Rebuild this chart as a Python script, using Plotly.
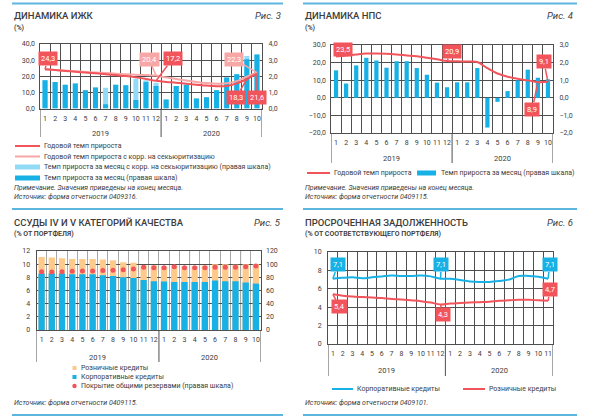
import plotly.graph_objects as go

W, H = 590, 417
def px(x): return x / W
def py(y): return 1 - y / H

# ---------------- data ----------------
months_2019 = ["1", "2", "3", "4", "5", "6", "7", "8", "9", "10", "11", "12"]
months_2020_oct = ["1", "2", "3", "4", "5", "6", "7", "8", "9", "10"]
months_2020_nov = ["1", "2", "3", "4", "5", "6", "7", "8", "9", "10", "11"]
years = ["2019", "2020"]

# Fig 3: ИЖК
izhk_month = [1.75, 1.65, 1.48, 1.55, 1.13, 1.30, 0.27, 1.48, 1.44, 0.52, 1.65, 1.40,
              0.56, 1.40, 1.48, 0.62, 0.70, 1.13, 1.92, 2.12, 3.05, 3.35]
izhk_month_corr = [1.75, 1.65, 1.48, 1.55, 1.13, 1.30, 1.28, 1.48, 1.44, 1.85, 1.75, 1.60,
                   0.56, 1.40, 1.48, 0.62, 0.70, 1.13, 1.92, 2.12, 3.25, 3.35]
izhk_yoy = [24.3, 23.8, 23.3, 22.8, 22.3, 21.8, 21.3, 20.7, 20.1, 19.3, 18.3, 17.2,
            16.5, 16.0, 15.4, 14.8, 14.2, 13.8, 14.0, 15.6, 18.3, 21.6]
izhk_yoy_corr = [24.3, 23.9, 23.5, 23.1, 22.7, 22.3, 22.0, 21.6, 21.3, 21.0, 20.7, 20.4,
                 19.3, 18.3, 17.4, 16.5, 15.8, 15.4, 15.6, 17.0, 19.8, 22.3]

# Fig 4: НПС
nps_month = [1.56, 0.81, 1.84, 2.27, 2.12, 1.71, 2.08, 2.08, 1.69, 1.31, 0.86, 0.60,
             0.88, 0.88, 1.69, -1.69, -0.23, 0.38, 0.99, 1.60, 1.14, 1.05]
nps_yoy = [23.5, 24.0, 24.6, 25.1, 25.2, 25.0, 24.6, 24.1, 23.6, 22.8, 21.9, 20.9,
           20.7, 20.6, 20.3, 16.8, 13.8, 12.0, 10.8, 9.9, 8.9, 9.1]

# Fig 5: ссуды IV и V категорий
loans_retail = [11.1, 11.0, 10.9, 10.8, 10.8, 10.8, 10.7, 10.6, 10.3, 10.2, 9.8, 9.8,
                9.7, 9.8, 9.7, 9.7, 9.8, 10.0, 10.0, 9.9, 10.0, 10.0]
loans_corp = [8.6, 8.6, 8.6, 8.45, 8.45, 8.45, 8.3, 8.2, 8.0, 7.9, 7.6, 7.4,
              7.35, 7.3, 7.3, 7.3, 7.3, 7.5, 7.4, 7.4, 7.2, 7.05]
coverage = [88.6, 88.1, 88.6, 89.1, 89.6, 89.6, 90.2, 90.7, 91.7, 92.7, 95.2, 94.7,
            94.7, 96.2, 94.7, 94.7, 94.7, 95.2, 95.2, 95.2, 96.2, 97.3]

# Fig 6: просроченная задолженность
overdue_corp = [7.1, 7.2, 7.25, 7.15, 7.25, 7.35, 7.45, 7.4, 7.4, 7.45, 7.35, 7.1,
                7.1, 6.95, 6.8, 6.75, 6.75, 6.85, 7.0, 7.4, 7.4, 7.3, 7.1]
overdue_retail = [5.4, 5.25, 5.15, 5.1, 5.05, 5.0, 4.9, 4.85, 4.75, 4.65, 4.5, 4.3,
                  4.4, 4.45, 4.5, 4.55, 4.6, 4.7, 4.75, 4.8, 4.8, 4.75, 4.7]

# names / texts
name_yoy = "Годовой темп прироста"
name_yoy_corr = "Годовой темп прироста с корр. на секьюритизацию"
name_month_corr = "Темп прироста за месяц с корр. на секьюритизацию (правая шкала)"
name_month = "Темп прироста за месяц (правая шкала)"
name_retail_loans = "Розничные кредиты"
name_corp_loans = "Корпоративные кредиты"
name_coverage = "Покрытие общими резервами (правая шкала)"

# ---------------- styles ----------------
BLUE = "#17b1e6"
LIGHT_BLUE = "#92dbf6"
RED = "#f2545b"
PINK = "#f8a7a7"
ORANGE = "#fdca8c"
GRID = "#4f4f4f"
LGRID = "#a8a8a8"
TXT = "#3c3c3c"
SEP = "#5cb6de"
FONT = "Roboto"

def fmt(v):
    return f"{v:.1f}".replace(".", ",")

labels1 = months_2019 + months_2020_oct
labels4 = months_2019 + months_2020_nov
xs1 = list(range(1, len(labels1) + 1))
xs4 = list(range(1, len(labels4) + 1))

fig = go.Figure()

# Panel 1 (bars on base axis y, lines on overlay y2)
fig.add_bar(x=xs1, y=izhk_month_corr, xaxis="x", yaxis="y", marker_color=LIGHT_BLUE,
            width=0.5, name=name_month_corr, marker_line_width=0)
fig.add_bar(x=xs1, y=izhk_month, xaxis="x", yaxis="y", marker_color=BLUE,
            width=0.5, name=name_month, marker_line_width=0)
fig.add_scatter(x=xs1, y=izhk_yoy_corr, xaxis="x", yaxis="y2", mode="lines",
                line=dict(color=PINK, width=2, shape="spline"), name=name_yoy_corr)
fig.add_scatter(x=xs1, y=izhk_yoy, xaxis="x", yaxis="y2", mode="lines",
                line=dict(color=RED, width=2, shape="spline"), name=name_yoy)

# Panel 2
fig.add_bar(x=xs1, y=nps_month, xaxis="x2", yaxis="y3", marker_color=BLUE,
            width=0.42, name=name_month, marker_line_width=0)
fig.add_scatter(x=xs1, y=nps_yoy, xaxis="x2", yaxis="y4", mode="lines",
                line=dict(color=RED, width=2, shape="spline"), name=name_yoy)

# Panel 3
fig.add_bar(x=xs1, y=loans_retail, xaxis="x3", yaxis="y5", marker_color=ORANGE,
            width=0.62, name=name_retail_loans, marker_line_width=0)
fig.add_bar(x=xs1, y=loans_corp, xaxis="x3", yaxis="y5", marker_color=BLUE,
            width=0.62, name=name_corp_loans, marker_line_width=0)
fig.add_scatter(x=xs1, y=coverage, xaxis="x3", yaxis="y6", mode="markers",
                marker=dict(color=RED, size=5), name=name_coverage)

# Panel 4
fig.add_scatter(x=xs4, y=overdue_corp, xaxis="x4", yaxis="y7", mode="lines",
                line=dict(color=BLUE, width=2, shape="spline"), name=name_corp_loans)
fig.add_scatter(x=xs4, y=overdue_retail, xaxis="x4", yaxis="y7", mode="lines",
                line=dict(color=RED, width=2, shape="spline"), name=name_retail_loans)

tickfont = dict(family=FONT, size=7, color=TXT)

def xaxis(dom, anchor, xs, labels, mgrid=GRID):
    n = len(xs)
    return dict(domain=[px(dom[0]), px(dom[1])], anchor=anchor, range=[0.5, n + 0.5],
                tickmode="array", tickvals=xs, ticktext=labels, showgrid=False,
                ticks="", tickfont=tickfont, zeroline=False, showline=True,
                linecolor=GRID, linewidth=1, mirror=True, fixedrange=True,
                ticklabelstandoff=3, tickangle=0, automargin=False,
                minor=dict(tickmode="array", tickvals=[i + 0.5 for i in range(n + 1)],
                           showgrid=True, gridcolor=mgrid, gridwidth=1, ticks=""))

def yaxis(dom, anchor, rng, dtick, side, fmt_, base=True, overlay=None):
    d = dict(range=rng, dtick=dtick, tick0=rng[0], side=side, tickformat=fmt_,
             tickfont=tickfont, ticks="", zeroline=False, fixedrange=True,
             ticklabelstandoff=4, anchor=anchor, automargin=False)
    if base:
        d.update(domain=[py(dom[0]), py(dom[1])], showgrid=True, gridcolor=GRID,
                 gridwidth=1, showline=True, linecolor=GRID, linewidth=1, mirror=True)
    else:
        d.update(overlaying=overlay, showgrid=False, showline=False)
    return d

fig.update_layout(
    width=W, height=H, margin=dict(l=0, r=0, t=0, b=0, pad=0, autoexpand=False),
    paper_bgcolor="white", plot_bgcolor="white", showlegend=False,
    barmode="overlay", separators=", ", hovermode=False,
    font=dict(family=FONT, color=TXT),
    xaxis=xaxis((40, 262), "y", xs1, labels1),
    yaxis=yaxis((108.5, 44), "x", [0, 4], 1, "right", ".1f"),
    yaxis2=yaxis(None, "x", [0, 40], 10, "left", ".1f", base=False, overlay="y"),
    xaxis2=xaxis((331, 553), "y3", xs1, labels1),
    yaxis3=yaxis((133, 45), "x2", [-2, 3], 1, "right", ".1f"),
    yaxis4=yaxis(None, "x2", [-20, 30], 10, "left", ".1f", base=False, overlay="y3"),
    xaxis3=xaxis((36.5, 261), "y5", xs1, labels1, mgrid=LGRID),
    yaxis5=yaxis((330, 251), "x3", [0, 12], 2, "left", "d"),
    yaxis6=yaxis(None, "x3", [0, 120], 20, "right", "d", base=False, overlay="y5"),
    xaxis4=xaxis((328, 553), "y7", xs4, labels4),
    yaxis7=yaxis((344, 252), "x4", [0, 10], 2, "left", "d"),
)

shapes = []
annotations = []

def text(x, y, s, size=7, anchor="left", color=TXT, weight=None):
    f = dict(family=FONT, size=size, color=color)
    if weight:
        f["weight"] = weight
    annotations.append(dict(x=px(x), y=py(y), xref="paper", yref="paper", text=s,
                            showarrow=False, xanchor=anchor, yanchor="middle", font=f))

def hline(x0, x1, y, color, width):
    shapes.append(dict(type="line", xref="paper", yref="paper", x0=px(x0), x1=px(x1),
                       y0=py(y), y1=py(y), line=dict(color=color, width=width)))

def rect(x0, x1, y0, y1, color, kind="rect"):
    shapes.append(dict(type=kind, xref="paper", yref="paper", x0=px(x0), x1=px(x1),
                       y0=py(y0), y1=py(y1), fillcolor=color, line=dict(width=0)))

# separators
for y in (3.5, 209, 415):
    hline(12, 283, y, SEP, 2)
    hline(303, 577, y, SEP, 2)

# titles
text(12, 15, "ДИНАМИКА ИЖК", 9.5, weight=500)
text(283, 15, "<i>Рис. 3</i>", 9.5, anchor="right")
text(12, 28, "(%)", 7, weight=600)
text(303, 15, "ДИНАМИКА НПС", 9.5, weight=500)
text(575, 15, "<i>Рис. 4</i>", 9.5, anchor="right")
text(303, 28, "(%)", 7, weight=600)
text(12, 222, "ССУДЫ IV И V КАТЕГОРИЙ КАЧЕСТВА", 9.5, weight=500)
text(283, 222, "<i>Рис. 5</i>", 9.5, anchor="right")
text(12, 234, "(% ОТ ПОРТФЕЛЯ)", 7, weight=600)
text(303, 222, "ПРОСРОЧЕННАЯ ЗАДОЛЖЕННОСТЬ", 9.5, weight=500)
text(575, 222, "<i>Рис. 6</i>", 9.5, anchor="right")
text(303, 234, "(% ОТ СООТВЕТСТВУЮЩЕГО ПОРТФЕЛЯ)", 7, weight=600)

# year labels & dividers
def years_block(xref, n, y_axis, y_bottom, y_label):
    for xv in (0.5, 12.5, n + 0.5):
        shapes.append(dict(type="line", xref=xref, yref="paper", x0=xv, x1=xv,
                           y0=py(y_axis), y1=py(y_bottom), line=dict(color=GRID, width=1)))
    annotations.append(dict(x=6.5, y=py(y_label), xref=xref, yref="paper", text=years[0],
                            showarrow=False, yanchor="middle",
                            font=dict(family=FONT, size=7.5, color=TXT)))
    annotations.append(dict(x=(13 + n) / 2, y=py(y_label), xref=xref, yref="paper",
                            text=years[1], showarrow=False, yanchor="middle",
                            font=dict(family=FONT, size=7.5, color=TXT)))

years_block("x", len(xs1), 108.5, 137, 133)
years_block("x2", len(xs1), 133, 163, 158)
years_block("x3", len(xs1), 330, 362, 357)
years_block("x4", len(xs4), 344, 376, 370)

# darker vertical lines every 5 months in panel 3
for xv in (5.5, 10.5, 15.5, 20.5):
    shapes.append(dict(type="line", xref="x3", yref="y5 domain", x0=xv, x1=xv, y0=0, y1=1,
                       line=dict(color=GRID, width=1), layer="below"))

# legends
hline(15, 40, 146, RED, 2); text(42, 146, name_yoy)
hline(15, 40, 156.5, PINK, 2); text(42, 156.5, name_yoy_corr)
rect(15, 40, 164.5, 169.5, LIGHT_BLUE); text(42, 167, name_month_corr)
rect(15, 40, 175.5, 180.5, BLUE); text(42, 178, name_month)
text(12, 188, "<i>Примечание. Значения приведены на конец месяца.</i>")
text(12, 197.5, "<i>Источник: форма отчетности 0409316.</i>")

hline(307, 330, 173, RED, 2); text(332, 173, name_yoy)
rect(417, 436, 170.5, 175.5, BLUE); text(439, 173, name_month)
text(303, 188, "<i>Примечание. Значения приведены на конец месяца.</i>")
text(303, 197.5, "<i>Источник: форма отчетности 0409115.</i>")

rect(72.5, 76.5, 366, 370, ORANGE); text(79, 368, name_retail_loans)
rect(72.5, 76.5, 375, 379, BLUE); text(79, 377, name_corp_loans)
rect(72.3, 76.7, 383.8, 388.2, RED, kind="circle"); text(79, 386, name_coverage)
text(12, 403, "<i>Источник: форма отчетности 0409115.</i>")

hline(332, 353, 389, BLUE, 2); text(355, 389, name_corp_loans)
hline(463, 485, 389, RED, 2); text(487, 389, name_retail_loans)
text(303, 402.5, "<i>Источник: форма отчетности 0409101.</i>")

# callouts
def callout(xref, yref, i, val, color, ax, ay):
    annotations.append(dict(x=i + 1, y=val, xref=xref, yref=yref, text=fmt(val),
                            showarrow=True, arrowhead=0, arrowwidth=1.5, arrowcolor=color,
                            ax=ax, ay=ay, bgcolor=color, borderpad=2, standoff=0,
                            font=dict(family=FONT, size=7.5, color="white")))

callout("x", "y2", 0, izhk_yoy[0], RED, 2.5, -10.5)
callout("x", "y2", 11, izhk_yoy_corr[11], PINK, -7, -16.5)
callout("x", "y2", 11, izhk_yoy[11], RED, 16.5, -22)
callout("x", "y2", 21, izhk_yoy_corr[21], PINK, -23, -13.5)
callout("x", "y2", 20, izhk_yoy[20], RED, -10.5, 18.5)
callout("x", "y2", 21, izhk_yoy[21], RED, 0, 24)

callout("x2", "y4", 0, nps_yoy[0], RED, 7, -7)
callout("x2", "y4", 11, nps_yoy[11], RED, 4.7, -9.5)
callout("x2", "y4", 20, nps_yoy[20], RED, -5.5, 27)
callout("x2", "y4", 21, nps_yoy[21], RED, -4, -20)

callout("x4", "y7", 0, overdue_corp[0], BLUE, 4.8, -13.7)
callout("x4", "y7", 11, overdue_corp[11], BLUE, 0.8, -13.7)
callout("x4", "y7", 22, overdue_corp[22], BLUE, 1.5, -13.7)
callout("x4", "y7", 0, overdue_retail[0], RED, 6.6, 12.4)
callout("x4", "y7", 11, overdue_retail[11], RED, 2.3, 9.6)
callout("x4", "y7", 22, overdue_retail[22], RED, 2, -11)

fig.update_layout(shapes=shapes, annotations=annotations)

fig.write_html("out.html", config={"displayModeBar": False},
               post_script="document.body.style.margin='0px';"
                           "document.body.style.overflow='hidden';")
